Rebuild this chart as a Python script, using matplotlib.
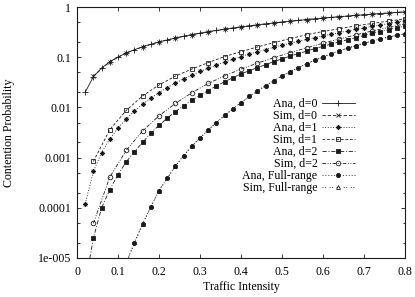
import matplotlib
matplotlib.use("Agg")
import matplotlib.pyplot as plt
from matplotlib.ticker import FixedLocator, FixedFormatter, NullFormatter

# ---------------- data ----------------
traffic_ana = [0.02, 0.04, 0.06, 0.08, 0.10, 0.12, 0.14, 0.16, 0.18, 0.20,
               0.22, 0.24, 0.26, 0.28, 0.30, 0.32, 0.34, 0.36, 0.38, 0.40,
               0.42, 0.44, 0.46, 0.48, 0.50, 0.52, 0.54, 0.56, 0.58, 0.60,
               0.62, 0.64, 0.66, 0.68, 0.70, 0.72, 0.74, 0.76, 0.78, 0.80]
traffic_sim = [0.04, 0.08, 0.12, 0.16, 0.20, 0.24, 0.28, 0.32, 0.36, 0.40,
               0.44, 0.48, 0.52, 0.56, 0.60, 0.64, 0.68, 0.72, 0.76, 0.80]

ana_d0 = [0.020, 0.041, 0.061, 0.081, 0.101, 0.121, 0.141, 0.161, 0.181, 0.201,
          0.221, 0.241, 0.261, 0.281, 0.301, 0.321, 0.341, 0.361, 0.381, 0.401,
          0.421, 0.441, 0.461, 0.481, 0.501, 0.521, 0.541, 0.561, 0.581, 0.601,
          0.621, 0.641, 0.661, 0.681, 0.701, 0.721, 0.741, 0.761, 0.781, 0.801]
sim_d0 = [0.042, 0.081, 0.121, 0.161, 0.201, 0.241, 0.281, 0.321, 0.361, 0.401,
          0.441, 0.481, 0.521, 0.561, 0.601, 0.641, 0.681, 0.721, 0.761, 0.801]

ana_d1 = [1.2e-4, 5.3e-4, 1.26e-3, 2.34e-3, 3.9e-3, 5.9e-3, 8.5e-3, 0.0116, 0.0154, 0.0198,
          0.0249, 0.0306, 0.0370, 0.0441, 0.0519, 0.0605, 0.0698, 0.080, 0.091, 0.103,
          0.115, 0.128, 0.142, 0.157, 0.173, 0.190, 0.207, 0.226, 0.245, 0.266,
          0.287, 0.310, 0.333, 0.358, 0.384, 0.411, 0.439, 0.468, 0.499, 0.531]
sim_d1 = [8.4e-4, 3.6e-3, 8.7e-3, 0.017, 0.028, 0.042, 0.058, 0.078, 0.103, 0.129,
          0.160, 0.195, 0.235, 0.280, 0.325, 0.370, 0.420, 0.470, 0.525, 0.580]

ana_d2 = [3.0e-6, 2.5e-5, 1.0e-4, 2.3e-4, 4.6e-4, 8.2e-4, 1.32e-3, 2.0e-3, 3.1e-3, 4.4e-3,
          6.1e-3, 8.2e-3, 0.0108, 0.0138, 0.0174, 0.0217, 0.0267, 0.0324, 0.0389, 0.0464,
          0.0537, 0.0620, 0.0711, 0.0813, 0.0926, 0.105, 0.118, 0.132, 0.148, 0.165,
          0.183, 0.203, 0.223, 0.246, 0.271, 0.297, 0.324, 0.354, 0.386, 0.419]
sim_d2 = [4.9e-5, 4.1e-4, 1.39e-3, 3.4e-3, 6.8e-3, 0.012, 0.0196, 0.030, 0.0424, 0.058,
          0.0763, 0.0976, 0.124, 0.153, 0.190, 0.231, 0.278, 0.333, 0.393, 0.461]

ana_fr = [3e-10, 2e-8, 1.7e-7, 8e-7, 2.8e-6, 8e-6, 2.0e-5, 4.8e-5, 1.05e-4, 2.2e-4,
          3.9e-4, 6.8e-4, 1.1e-3, 1.7e-3, 2.45e-3, 3.6e-3, 5.0e-3, 6.9e-3, 9.4e-3, 0.0125,
          0.0165, 0.0213, 0.0272, 0.0341, 0.0423, 0.0516, 0.0622, 0.0741, 0.0873, 0.1016,
          0.1172, 0.134, 0.152, 0.170, 0.190, 0.210, 0.231, 0.252, 0.273, 0.294]
sim_fr = [2e-8, 8e-7, 8e-6, 4.8e-5, 2.2e-4, 6.8e-4, 1.7e-3, 3.6e-3, 6.9e-3, 0.0125,
          0.0213, 0.0341, 0.0516, 0.0741, 0.1016, 0.134, 0.170, 0.210, 0.252, 0.294]

series_labels = ["Ana, d=0", "Sim, d=0", "Ana, d=1", "Sim, d=1",
                 "Ana, d=2", "Sim, d=2", "Ana, Full-range", "Sim, Full-range"]

x_ticks = [0, 0.1, 0.2, 0.3, 0.4, 0.5, 0.6, 0.7, 0.8]
x_tick_labels = ["0", "0.1", "0.2", "0.3", "0.4", "0.5", "0.6", "0.7", "0.8"]
y_ticks = [1e-5, 1e-4, 1e-3, 1e-2, 1e-1, 1]
y_tick_labels = ["1e-005", "0.0001", "0.001", "0.01", "0.1", "1"]
y_minor = [2e-5, 5e-5, 2e-4, 5e-4, 2e-3, 5e-3, 2e-2, 5e-2, 2e-1, 5e-1]

# ---------------- style ----------------
FS = 8.6
plt.rcParams['font.family'] = ['Liberation Serif', 'DejaVu Serif']
plt.rcParams['font.size'] = FS
plt.rcParams['lines.scale_dashes'] = False

fig = plt.figure(figsize=(4.15, 2.97), dpi=100)
ax = fig.add_axes([77/415, 1 - 258/297, 328/415, 251/297])

lc = '#1a1a1a'
lw = 0.6
ms = 3.3
common = dict(color=lc, lw=lw, mew=0.6)

series = [
    (traffic_ana, ana_d0, dict(marker='+', ls='-', ms=4.0), 3),
    (traffic_sim, sim_d0, dict(marker='x', ls=(0, (2.4, 1.4)), ms=3.2), 3),
    (traffic_ana, ana_d1, dict(marker=(8, 2, 0), ls=(0, (0.7, 1.2)), ms=3.4), 3),
    (traffic_sim, sim_d1, dict(marker='s', ls=(0, (2.0, 1.3)), ms=ms, mfc='none'), 3),
    (traffic_ana, ana_d2, dict(marker='s', ls=(0, (3.0, 1.3, 0.7, 1.3)), ms=2.9), 3),
    (traffic_sim, sim_d2, dict(marker='o', ls=(0, (2.6, 1.1, 0.7, 1.1, 0.7, 1.1)), ms=ms, mfc='none'), 3),
    (traffic_ana, ana_fr, dict(marker='o', ls=(0, (0.7, 1.4)), ms=3.0), 3),
    (traffic_sim, sim_fr, dict(marker='^', ls=(0, (0.7, 1.1, 0.7, 2.6)), ms=2.8, mfc='none'), 2),
]
handles = []
for (xs, ys, st, z), lab in zip(series, series_labels):
    h, = ax.plot(xs, ys, label=lab, zorder=z, **common, **st)
    handles.append(h)

ax.set_yscale('log')
ax.set_xlim(0, 0.8)
ax.set_ylim(1e-5, 1)

ax.xaxis.set_major_locator(FixedLocator(x_ticks))
ax.xaxis.set_major_formatter(FixedFormatter(x_tick_labels))
ax.yaxis.set_major_locator(FixedLocator(y_ticks))
ax.yaxis.set_major_formatter(FixedFormatter(y_tick_labels))
ax.yaxis.set_minor_locator(FixedLocator(y_minor))
ax.yaxis.set_minor_formatter(NullFormatter())
ax.xaxis.set_minor_locator(FixedLocator([]))

ax.tick_params(which='both', direction='in', top=True, right=True, width=0.6, color=lc)
ax.tick_params(which='major', length=3.2)
ax.tick_params(which='minor', length=1.8)
ax.tick_params(axis='y', which='major', pad=4.0)
ax.tick_params(axis='x', which='major', pad=5.5)
for s in ax.spines.values():
    s.set_linewidth(0.8)
    s.set_color(lc)

ax.set_xlabel("Traffic Intensity")
ax.set_ylabel("Contention Probability")
ax.xaxis.set_label_coords(0.5, -0.093)
ax.yaxis.set_label_coords(-0.19, 0.5)

leg = ax.legend(handles=handles, loc='upper right',
                bbox_to_anchor=((355 - 77) / 328, (258 - 98) / 251),
                frameon=False, markerfirst=False, borderpad=0, borderaxespad=0,
                handlelength=2.8, handletextpad=0.35, labelspacing=0.0,
                fontsize=FS)

fig.savefig("out.png", dpi=100)
